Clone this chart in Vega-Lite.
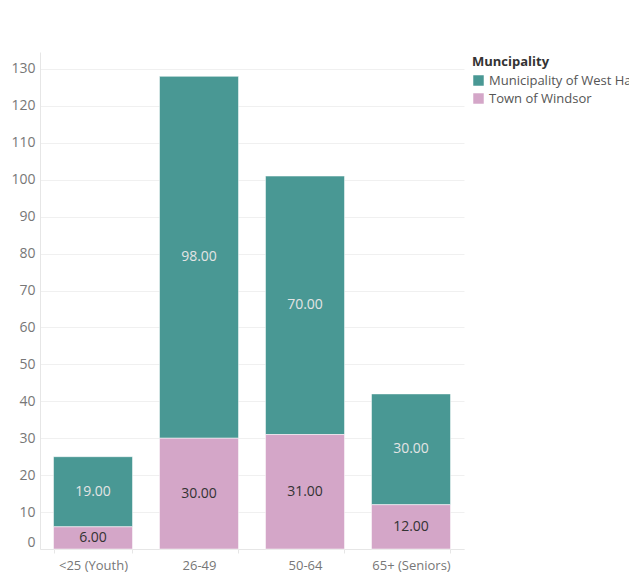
{
  "$schema": "https://vega.github.io/schema/vega-lite/v6.json",
  "width": 424,
  "height": 497,
  "autosize": {"type": "none"},
  "padding": {"left": 40, "top": 52, "right": 165, "bottom": 28},
  "background": "white",
  "config": {
    "font": "Open Sans",
    "view": {"stroke": null},
    "axisY": {
      "title": null,
      "labelOverlap": false,
      "labelFontSize": 14,
      "labelColor": "#777777",
      "labelFlush": true,
      "labelPadding": 5,
      "ticks": false,
      "domainColor": "#e6e6e6",
      "gridColor": "#f0f0f0",
      "gridWidth": 1
    }
  },
  "data": {
    "values": [
      {"Age": "<25 (Youth)", "Municipality": "Municipality of West Hants", "Count": 19},
      {"Age": "<25 (Youth)", "Municipality": "Town of Windsor", "Count": 6},
      {"Age": "26-49", "Municipality": "Municipality of West Hants", "Count": 98},
      {"Age": "26-49", "Municipality": "Town of Windsor", "Count": 30},
      {"Age": "50-64", "Municipality": "Municipality of West Hants", "Count": 70},
      {"Age": "50-64", "Municipality": "Town of Windsor", "Count": 31},
      {"Age": "65+ (Seniors)", "Municipality": "Municipality of West Hants", "Count": 30},
      {"Age": "65+ (Seniors)", "Municipality": "Town of Windsor", "Count": 12}
    ]
  },
  "transform": [
    {"calculate": "datum.Municipality === 'Town of Windsor' ? 0 : 1", "as": "ord"},
    {"stack": "Count", "groupby": ["Age"], "sort": [{"field": "ord", "order": "ascending"}], "as": ["v0", "v1"]},
    {"calculate": "(datum.v0 + datum.v1) / 2", "as": "mid"}
  ],
  "encoding": {
    "x": {
      "field": "Age",
      "type": "nominal",
      "sort": ["<25 (Youth)", "26-49", "50-64", "65+ (Seniors)"],
      "scale": {"paddingInner": 0.255, "paddingOuter": 0.1275},
      "axis": {
        "title": null,
        "labelAngle": 0,
        "labelFontSize": 13,
        "labelColor": "#777777",
        "labelPadding": 6,
        "domainColor": "#e6e6e6",
        "tickColor": "#e6e6e6",
        "ticks": true,
        "tickBand": "extent",
        "tickSize": 4,
        "grid": false
      }
    }
  },
  "layer": [
    {
      "mark": {"type": "bar", "stroke": "white", "strokeWidth": 0.5},
      "encoding": {
        "y": {
          "field": "v0",
          "type": "quantitative",
          "title": null,
          "scale": {"domain": [0, 134.6], "nice": false, "zero": true},
          "axis": {"values": [0, 10, 20, 30, 40, 50, 60, 70, 80, 90, 100, 110, 120, 130]}
        },
        "y2": {"field": "v1"},
        "color": {
          "field": "Municipality",
          "type": "nominal",
          "scale": {
            "domain": ["Municipality of West Hants", "Town of Windsor"],
            "range": ["#499894", "#d4a6c8"]
          },
          "legend": {
            "title": "Muncipality",
            "orient": "none",
            "legendX": 432,
            "legendY": 4,
            "titleFontSize": 13,
            "titleFontWeight": "bold",
            "titleColor": "#333333",
            "titlePadding": 5,
            "labelFontSize": 13,
            "labelColor": "#555555",
            "labelLimit": 400,
            "symbolType": "square",
            "symbolSize": 110,
            "symbolStrokeWidth": 0,
            "rowPadding": 4
          }
        }
      }
    },
    {
      "mark": {"type": "text", "fontSize": 14, "baseline": "middle"},
      "encoding": {
        "y": {
          "field": "mid",
          "type": "quantitative",
          "title": null,
          "axis": {"values": [0, 10, 20, 30, 40, 50, 60, 70, 80, 90, 100, 110, 120, 130]}
        },
        "text": {"field": "Count", "type": "quantitative", "format": ".2f"},
        "color": {
          "condition": {"test": "datum.Municipality === 'Town of Windsor'", "value": "#333333"},
          "value": "#e4e4e4"
        }
      }
    }
  ]
}
